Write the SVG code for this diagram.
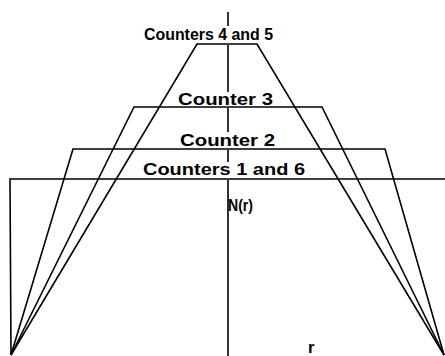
<svg xmlns="http://www.w3.org/2000/svg" width="445" height="356" viewBox="0 0 445 356">
<style>
.ln{fill:none;stroke:#000;stroke-width:1.6;stroke-linejoin:miter}
.lb{font-family:"Liberation Sans",Arial,sans-serif;font-weight:bold;font-size:16.5px;fill:#000}
</style>
<rect width="445" height="356" fill="#fff"/>
<g id="connectors">
<path id="axis" class="ln" d="M228,12V26M228,45V92M228,108V132M228,150V162M228,180V356"/>
</g>
<g id="counters-1-6">
<path class="ln" d="M11,355L10,179H446"/>
<text class="lb" x="143" y="175" textLength="162" lengthAdjust="spacingAndGlyphs">Counters 1 and 6</text>
</g>
<g id="counter-2">
<path class="ln" d="M11,355L73,149H385L444,355"/>
<text class="lb" x="180" y="146" textLength="95" lengthAdjust="spacingAndGlyphs">Counter 2</text>
</g>
<g id="counter-3">
<path class="ln" d="M11,355L134,107H322L444,355"/>
<text class="lb" x="178" y="105" textLength="95" lengthAdjust="spacingAndGlyphs">Counter 3</text>
</g>
<g id="counters-4-5">
<path class="ln" d="M11,355L197,44H257L444,355"/>
<text class="lb" x="144" y="40" textLength="129" lengthAdjust="spacingAndGlyphs">Counters 4 and 5</text>
</g>
<g id="labels">
<text class="lb" x="228" y="211" font-size="14" textLength="25" lengthAdjust="spacingAndGlyphs">N(r)</text>
<text class="lb" x="308" y="353" font-size="14">r</text>
</g>
</svg>
